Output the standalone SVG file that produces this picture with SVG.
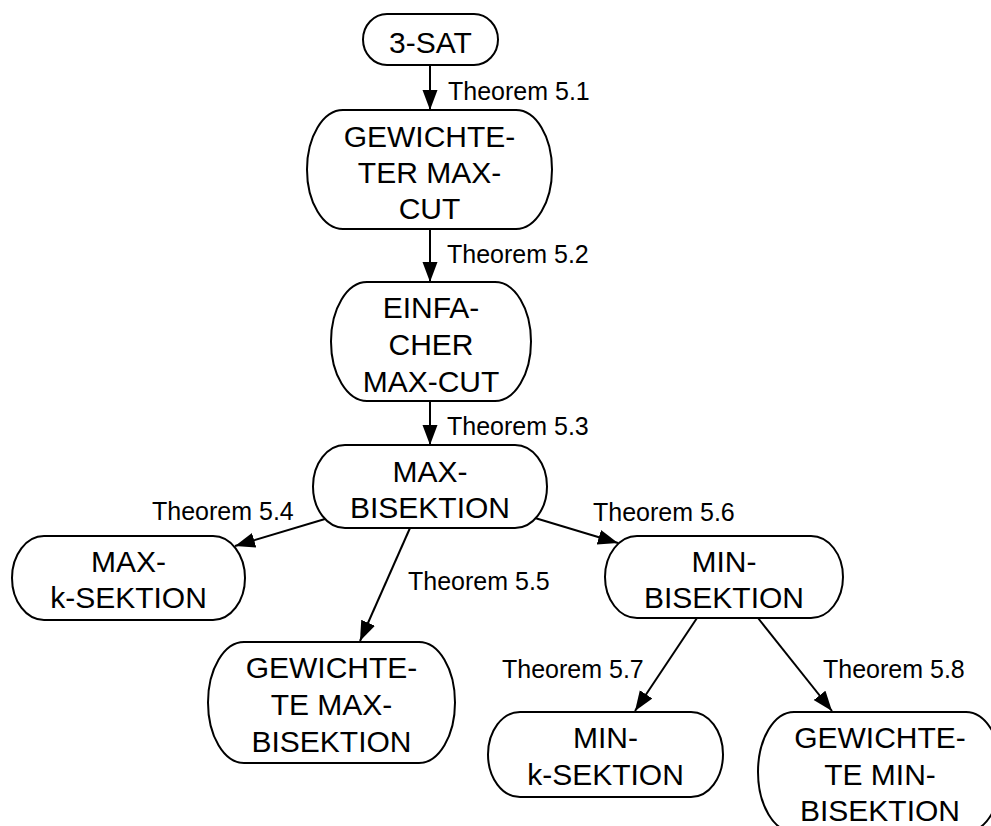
<svg xmlns="http://www.w3.org/2000/svg" width="991" height="826" viewBox="0 0 991 826">
  <style>
    .node rect { fill: #ffffff; stroke: #000000; stroke-width: 2; }
    .node text { font-family: "Liberation Sans", Arial, sans-serif; font-size: 30px; text-anchor: middle; fill: #000000; }
    .edge line { stroke: #000000; stroke-width: 2; marker-end: url(#arrow); }
    .label { font-family: "Liberation Sans", Arial, sans-serif; font-size: 25px; fill: #000000; }
  </style>
  <defs>
    <marker id="arrow" markerUnits="userSpaceOnUse" markerWidth="22" markerHeight="18" refX="20" refY="7.5" orient="auto">
      <path d="M0,0 L20,7.5 L0,15 Z" fill="#000000"/>
    </marker>
  </defs>
  <rect width="991" height="826" fill="#ffffff"/>

  <!-- reductions between the problems -->
  <g id="connectors" class="edge">
    <line x1="430" y1="65" x2="430" y2="110"/>
    <line x1="430" y1="229" x2="430" y2="282"/>
    <line x1="430" y1="401" x2="430" y2="445"/>
    <line x1="325" y1="519" x2="235" y2="546"/>
    <line x1="410" y1="528" x2="360" y2="641"/>
    <line x1="535" y1="518" x2="618" y2="543"/>
    <line x1="697" y1="618" x2="635" y2="711"/>
    <line x1="758" y1="618" x2="832" y2="711"/>
  </g>

  <g id="edge-labels">
    <text class="label" x="448" y="100">Theorem 5.1</text>
    <text class="label" x="447" y="263">Theorem 5.2</text>
    <text class="label" x="447" y="435">Theorem 5.3</text>
    <text class="label" x="152" y="520">Theorem 5.4</text>
    <text class="label" x="408" y="590">Theorem 5.5</text>
    <text class="label" x="593" y="521">Theorem 5.6</text>
    <text class="label" x="502" y="678">Theorem 5.7</text>
    <text class="label" x="823" y="678">Theorem 5.8</text>
  </g>

  <g id="n-3sat" class="node">
    <rect x="363" y="14" width="135" height="51" rx="24" ry="25.5"/>
    <text x="430.5" y="53">3-SAT</text>
  </g>

  <g id="n-gewichteter-maxcut" class="node">
    <rect x="307" y="110" width="245" height="119" rx="36" ry="59.5"/>
    <text x="429.5" y="147">GEWICHTE-</text>
    <text x="429.5" y="183">TER MAX-</text>
    <text x="429.5" y="219">CUT</text>
  </g>

  <g id="n-einfacher-maxcut" class="node">
    <rect x="331" y="282" width="200" height="119" rx="36" ry="59.5"/>
    <text x="431" y="318">EINFA-</text>
    <text x="431" y="355">CHER</text>
    <text x="431" y="392">MAX-CUT</text>
  </g>

  <g id="n-max-bisektion" class="node">
    <rect x="313" y="445" width="234" height="83" rx="32" ry="41.5"/>
    <text x="430" y="482">MAX-</text>
    <text x="430" y="518">BISEKTION</text>
  </g>

  <g id="n-max-k-sektion" class="node">
    <rect x="12" y="536" width="233" height="84" rx="32" ry="42"/>
    <text x="128.5" y="572">MAX-</text>
    <text x="128.5" y="608">k-SEKTION</text>
  </g>

  <g id="n-gewichtete-max-bisektion" class="node">
    <rect x="208" y="642" width="247" height="121" rx="36" ry="60.5"/>
    <text x="331.5" y="678">GEWICHTE-</text>
    <text x="331.5" y="715">TE MAX-</text>
    <text x="331.5" y="752">BISEKTION</text>
  </g>

  <g id="n-min-bisektion" class="node">
    <rect x="605" y="536" width="238" height="82" rx="32" ry="41"/>
    <text x="724" y="572">MIN-</text>
    <text x="724" y="608">BISEKTION</text>
  </g>

  <g id="n-min-k-sektion" class="node">
    <rect x="488" y="712" width="235" height="85" rx="32" ry="42.5"/>
    <text x="605.5" y="748">MIN-</text>
    <text x="605.5" y="785">k-SEKTION</text>
  </g>

  <g id="n-gewichtete-min-bisektion" class="node">
    <rect x="758" y="712" width="244" height="120" rx="36" ry="60"/>
    <text x="880" y="748">GEWICHTE-</text>
    <text x="880" y="785">TE MIN-</text>
    <text x="880" y="821">BISEKTION</text>
  </g>
</svg>
